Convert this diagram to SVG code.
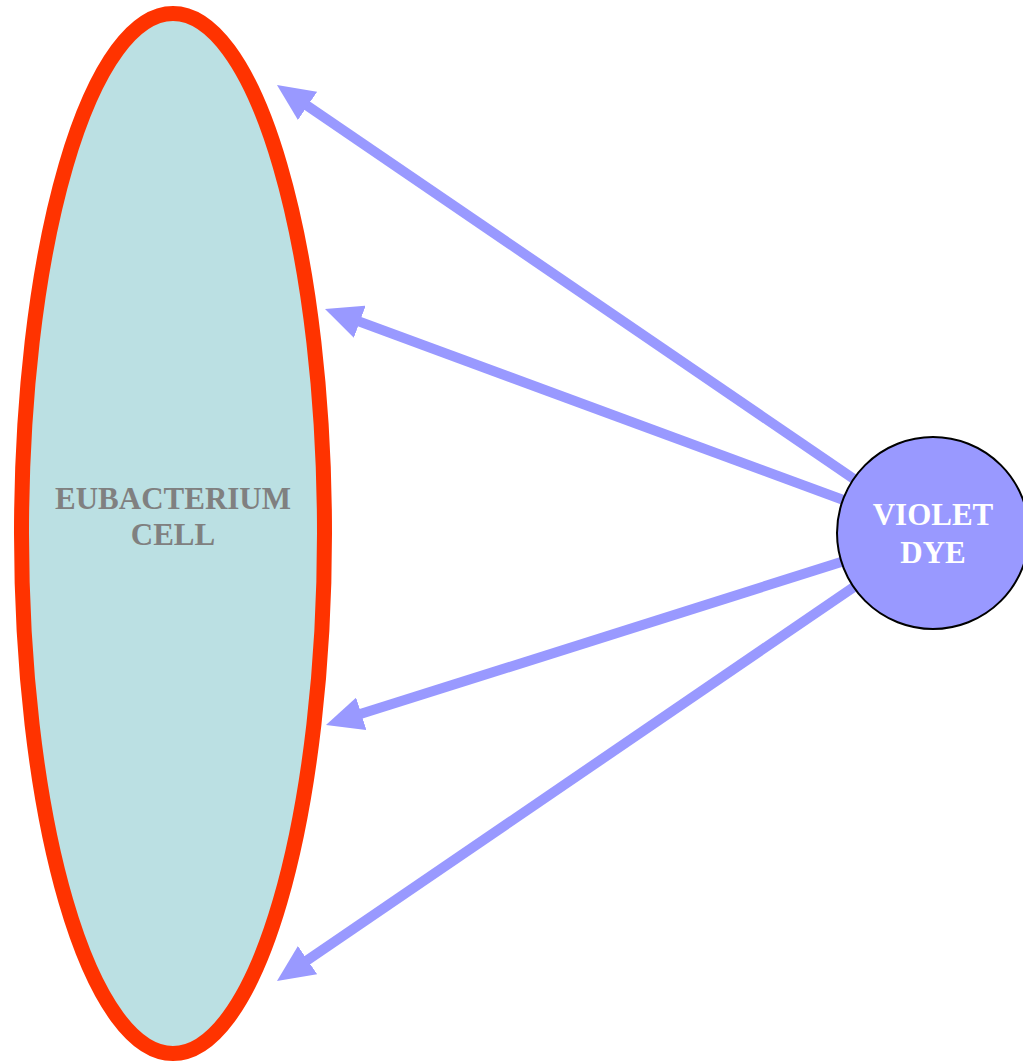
<svg xmlns="http://www.w3.org/2000/svg" width="1023" height="1062" viewBox="0 0 1023 1062">
<style>
.conn{stroke:#9999ff;stroke-width:10;fill:none;marker-end:url(#ah)}
.lbl{font-family:"Liberation Serif","Times New Roman",serif;font-weight:bold;font-size:31px;text-anchor:middle}
</style>
<defs>
<marker id="ah" markerUnits="userSpaceOnUse" viewBox="0 0 37 34" markerWidth="37" markerHeight="34" refX="1" refY="17" orient="auto">
<path d="M0,0 L37,17 L0,34 z" fill="#9999ff"/>
</marker>
</defs>
<g id="cell">
<ellipse cx="173" cy="533.5" rx="151.5" ry="520" fill="#bbe0e3" stroke="#ff3300" stroke-width="15"/>
<text class="lbl" x="173" y="509" fill="#808080">EUBACTERIUM</text>
<text class="lbl" x="173" y="545" fill="#808080">CELL</text>
</g>
<g id="connectors">
<line class="conn" x1="933" y1="533" x2="306.7" y2="105.3"/>
<line class="conn" x1="933" y1="533" x2="358.8" y2="321.4"/>
<line class="conn" x1="933" y1="533" x2="360.3" y2="714.1"/>
<line class="conn" x1="933" y1="533" x2="306.7" y2="960.7"/>
</g>
<g id="dye">
<circle cx="933" cy="533" r="96" fill="#9999ff" stroke="#000" stroke-width="2"/>
<text class="lbl" x="933" y="525" fill="#ffffff">VIOLET</text>
<text class="lbl" x="933" y="563" fill="#ffffff">DYE</text>
</g>
</svg>
